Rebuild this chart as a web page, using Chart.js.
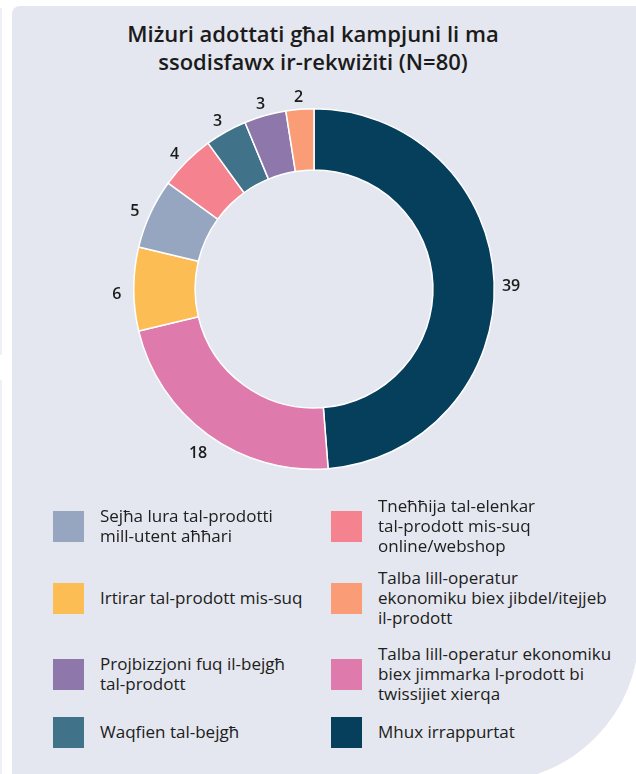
<!DOCTYPE html>
<html>
<head>
<meta charset="utf-8">
<script src="https://cdn.jsdelivr.net/npm/chart.js@4"></script>
<style>
  html, body { margin: 0; padding: 0; background: #ffffff; }
  body { width: 636px; height: 774px; position: relative; overflow: hidden; font-family: "Open Sans", sans-serif; }
  .edge { position: absolute; left: 0; width: 2px; background: #eef0f5; }
  .panel {
    position: absolute; left: 12px; top: 6px; width: 627px; height: 776px;
    background: #e4e7ef; border-top-left-radius: 8px; border-bottom-right-radius: 150px;
  }
  .title {
    position: absolute; left: 12px; top: 19px; width: 602px; text-align: center;
    font: 600 22px/28px "Open Sans", sans-serif; color: #1b1b1b;
  }
  .chart-box { position: absolute; left: 64px; top: 59px; width: 500px; height: 460px; }
  .legend-item { position: absolute; height: 70px; display: flex; align-items: center; }
  .swatch { width: 31px; height: 31px; flex: none; }
  .legend-text { margin-left: 16px; font: 400 17px/20px "Open Sans", sans-serif; color: #202020; white-space: nowrap; }
</style>
</head>
<body>
<div class="edge" style="top:8px;height:347px"></div>
<div class="edge" style="top:380px;height:394px"></div>
<div class="panel"></div>
<div class="title">Miżuri adottati għal kampjuni li ma<br>ssodisfawx ir-rekwiżiti (N=80)</div>
<div class="chart-box"><canvas id="donut"></canvas></div>
<div id="legend"></div>
<script>
// categories, in drawing order (clockwise from the top)
const categories = [
    ['Mhux irrappurtat'],
    ['Talba lill-operatur ekonomiku', 'biex jimmarka l-prodott bi', 'twissijiet xierqa'],
    ['Irtirar tal-prodott mis-suq'],
    ['Sejħa lura tal-prodotti', 'mill-utent aħħari'],
    ['Tneħħija tal-elenkar', 'tal-prodott mis-suq', 'online/webshop'],
    ['Waqfien tal-bejgħ'],
    ['Projbizzjoni fuq il-bejgħ', 'tal-prodott'],
    ['Talba lill-operatur', 'ekonomiku biex jibdel/itejjeb', 'il-prodott']
];
const values = [39, 18, 6, 5, 4, 3, 3, 2];
const colors = ['#053f5c', '#df7aad', '#fdbd55', '#97a6c0', '#f4838f', '#40728a', '#8e77aa', '#fa9d77'];

// legend layout: which category sits in each cell (left column, right column)
const legendRows = [[3, 4], [2, 7], [6, 1], [5, 0]];
const legendRowCenters = [526, 598, 674, 732];
const legendColumnX = [53, 331];

// Build HTML legend
const legend = document.getElementById('legend');
legendRows.forEach((row, r) => {
    row.forEach((idx, c) => {
        const item = document.createElement('div');
        item.className = 'legend-item';
        item.style.left = legendColumnX[c] + 'px';
        item.style.top = (legendRowCenters[r] - 35) + 'px';
        item.innerHTML = `<div class="swatch" style="background:${colors[idx]}"></div>
            <div class="legend-text">${categories[idx].join('<br>')}</div>`;
        legend.appendChild(item);
    });
});

// value labels outside the ring
const valueLabels = {
    id: 'valueLabels',
    afterDatasetsDraw(chart) {
        const ctx = chart.ctx;
        const meta = chart.getDatasetMeta(0);
        ctx.save();
        ctx.font = '600 16px "Open Sans", sans-serif';
        ctx.fillStyle = '#1b1b1b';
        ctx.textAlign = 'center';
        ctx.textBaseline = 'middle';
        meta.data.forEach((arc, i) => {
            const p = arc.getProps(['x', 'y', 'startAngle', 'endAngle', 'outerRadius'], true);
            const mid = (p.startAngle + p.endAngle) / 2;
            const r = p.outerRadius + 17;
            ctx.fillText(String(values[i]), p.x + Math.cos(mid) * r, p.y + Math.sin(mid) * r + 5);
        });
        ctx.restore();
    }
};

new Chart(document.getElementById('donut').getContext('2d'), {
    type: 'doughnut',
    data: {
        labels: categories,
        datasets: [{
            data: values,
            backgroundColor: colors,
            borderColor: '#ffffff',
            borderWidth: 1.5
        }]
    },
    options: {
        responsive: true,
        maintainAspectRatio: false,
        animation: false,
        cutout: '66%',
        layout: { padding: 49 },
        plugins: {
            legend: { display: false },
            tooltip: { enabled: false }
        }
    },
    plugins: [valueLabels]
});
</script>
</body>
</html>
